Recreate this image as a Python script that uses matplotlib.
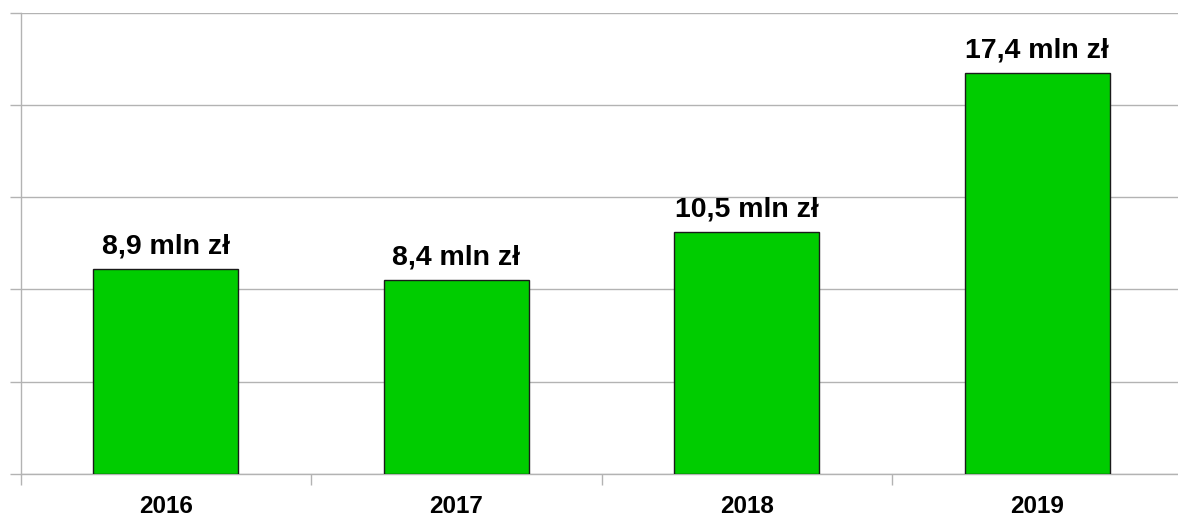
import numpy as np
import matplotlib
matplotlib.use('Agg')
import matplotlib.pyplot as plt

years = ['2016', '2017', '2018', '2019']
values = [8.9, 8.4, 10.5, 17.4]
labels = ['8,9 mln zł', '8,4 mln zł', '10,5 mln zł', '17,4 mln zł']

plt.rcParams['font.family'] = ['Liberation Sans', 'DejaVu Sans']

fig = plt.figure(figsize=(11.78, 5.17), dpi=100)
W, H = 1178.0, 517.0
ax = fig.add_axes([20.5 / W, 1 - 474 / H, 1162 / W, (474 - 12.7) / H])

pos = np.arange(1, len(years) + 1)
bars = ax.bar(pos, values, width=0.5, color='#00cc00', edgecolor='#1a1a1a', linewidth=1.0, zorder=3)

for x, v, t in zip(pos, values, labels):
    ax.annotate(t, (x, v), xytext=(0, 6.8), textcoords='offset points',
                ha='center', va='bottom', fontsize=20.5, fontweight='bold', color='#000000')

ax.set_xlim(0.5, 4.5)
ax.set_ylim(0, 20)
ax.set_yticks(np.arange(0, 21, 4))
ax.set_yticklabels([])
ax.yaxis.grid(True, color='#b3b3b3', linewidth=1.0, zorder=0)
ax.tick_params(axis='y', length=8, width=1, color='#b3b3b3', direction='out')

ax.set_xticks(pos)
ax.set_xticklabels(years, fontsize=17.5, fontweight='bold')
ax.set_xticks(np.arange(0.5, 4.6, 1.0), minor=True)
ax.tick_params(axis='x', which='major', length=0, pad=15)
ax.tick_params(axis='x', which='minor', length=8, width=1, color='#b3b3b3', direction='out')

for s in ['top', 'right']:
    ax.spines[s].set_visible(False)
for s in ['left', 'bottom']:
    ax.spines[s].set_color('#b3b3b3')
    ax.spines[s].set_linewidth(1.0)

fig.savefig('out.png', dpi=100)
